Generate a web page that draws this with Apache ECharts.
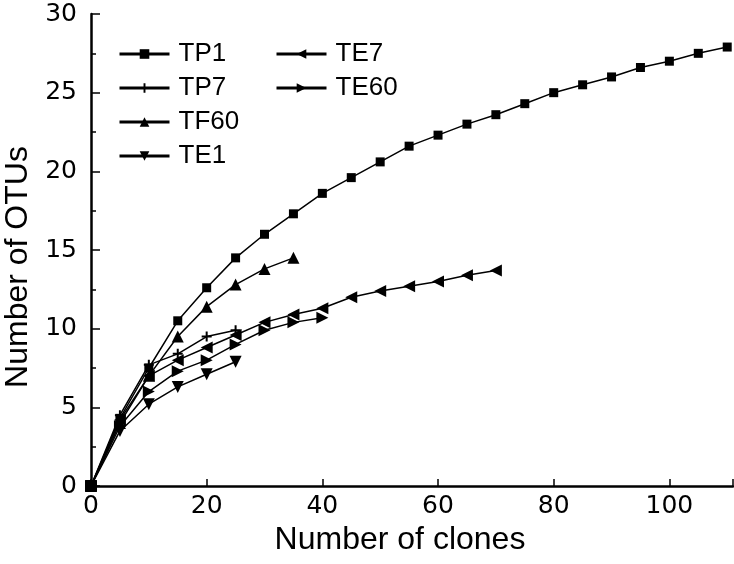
<!DOCTYPE html>
<html>
<head>
<meta charset="utf-8">
<script src="https://cdn.jsdelivr.net/npm/echarts@6/dist/echarts.min.js"></script>
<style>
html,body{margin:0;padding:0;background:#fff;}
#chart{width:734px;height:564px;}
</style>
</head>
<body>
<div id="chart"></div>
<script>
// Data (x = number of clones, y = number of OTUs)
const clones = [0,5,10,15,20,25,30,35,40,45,50,55,60,65,70,75,80,85,90,95,100,105,110];
const TP1  = [0,4.3,7.5,10.5,12.6,14.5,16.0,17.3,18.6,19.6,20.6,21.6,22.3,23.0,23.6,24.3,25.0,25.5,26.0,26.6,27.0,27.5,27.9];
const TP7  = [0,4.5,7.7,8.4,9.5,9.9];
const TF60 = [0,4.0,7.0,9.5,11.4,12.8,13.8,14.5];
const TE1  = [0,3.5,5.2,6.3,7.1,7.9];
const TE7  = [0,4.2,7.0,8.0,8.8,9.6,10.4,10.9,11.3,12.0,12.4,12.7,13.0,13.4,13.7];
const TE60 = [0,3.8,6.0,7.3,8.0,9.0,9.9,10.4,10.7];
const seriesNames = ['TP1','TP7','TF60','TE1','TE7','TE60'];
const xTicks = [0,20,40,60,80,100];
const yTicks = [0,5,10,15,20,25,30];

const FONT = "'Liberation Sans', Arial, sans-serif";
const TICKFONT = "'DejaVu Sans', sans-serif";
const plus = 'path://M4,0 L6,0 L6,4 L10,4 L10,6 L6,6 L6,10 L4,10 L4,6 L0,6 L0,4 L4,4 Z';

function pairs(vals){ return vals.map((v,i)=>[clones[i], v]); }

const styles = {
  TP1:  {symbol:'rect', symbolSize:9, symbolRotate:0},
  TP7:  {symbol:plus, symbolSize:10, symbolRotate:0},
  TF60: {symbol:'triangle', symbolSize:12, symbolRotate:0},
  TE1:  {symbol:'triangle', symbolSize:12, symbolRotate:180},
  TE7:  {symbol:'triangle', symbolSize:12, symbolRotate:90},
  TE60: {symbol:'triangle', symbolSize:12, symbolRotate:-90}
};
const dataMap = {TP1, TP7, TF60, TE1, TE7, TE60};

const series = seriesNames.map(n => ({
  name: n,
  type: 'line',
  data: pairs(dataMap[n]),
  symbol: styles[n].symbol,
  symbolSize: styles[n].symbolSize,
  symbolRotate: styles[n].symbolRotate,
  showAllSymbol: true,
  lineStyle: {color:'#000', width:1.5},
  itemStyle: {color:'#000', borderWidth:0},
  emphasis: {disabled:true},
  animation: false
}));

const legendCommon = {
  orient: 'vertical',
  itemWidth: 50,
  itemHeight: 12,
  itemGap: 8,
  textStyle: {fontFamily: FONT, fontSize: 26, color:'#000', padding:[0,0,0,4]},
  lineStyle: {width: 3, color:'#000'},
  itemStyle: {color:'#000'},
  selectedMode: false
};

const option = {
  backgroundColor: '#fff',
  animation: false,
  color: ['#000'],
  grid: {left: 91, right: 1, top: 14, bottom: 78, containLabel: false, outerBoundsMode: 'none'},
  legend: [
    Object.assign({}, legendCommon, {data: ['TP1','TP7','TF60','TE1'], left: 113, top: 36}),
    Object.assign({}, legendCommon, {data: ['TE7','TE60'], left: 270, top: 36})
  ],
  xAxis: {
    type: 'value', min: 0, max: 111, interval: 20,
    name: 'Number of clones', nameLocation: 'middle', nameGap: 35,
    nameTextStyle: {fontFamily: FONT, fontSize: 32, color:'#000', padding:[0,24,0,0]},
    axisLine: {show:true, onZero:false, lineStyle:{color:'#000', width:2.5}},
    axisTick: {show:true, inside:true, length:7, lineStyle:{color:'#000', width:1.5}},
    axisLabel: {fontFamily: TICKFONT, fontSize: 25, color:'#000', margin: 8,
      formatter: v => xTicks.includes(v) ? String(v) : ''},
    splitLine: {show:false}
  },
  yAxis: {
    type: 'value', min: 0, max: 30, interval: 5,
    name: 'Number of OTUs', nameLocation: 'middle', nameGap: 55,
    nameTextStyle: {fontFamily: FONT, fontSize: 32, color:'#000', padding:[0,34,0,0]},
    axisLine: {show:true, onZero:false, lineStyle:{color:'#000', width:2.5}},
    axisTick: {show:true, inside:true, length:9, lineStyle:{color:'#000', width:1.5}},
    minorTick: {show:true, splitNumber:2, length:5, lineStyle:{color:'#000', width:1.5}},
    axisLabel: {fontFamily: TICKFONT, fontSize: 25, color:'#000', margin: 14,
      formatter: v => yTicks.includes(v) ? String(v) : ''},
    splitLine: {show:false}
  },
  series: series
};

const chart = echarts.init(document.getElementById('chart'), null, {renderer:'canvas'});
chart.setOption(option);
</script>
</body>
</html>
